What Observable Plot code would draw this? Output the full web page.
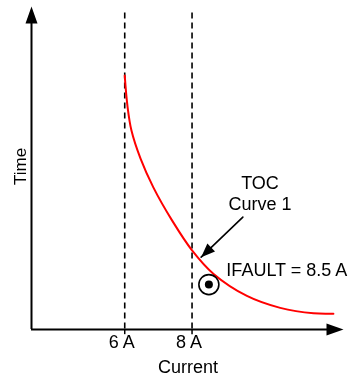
<!DOCTYPE html>
<html>
<head>
<meta charset="utf-8">
<script src="https://cdn.jsdelivr.net/npm/d3@7"></script>
<script src="https://cdn.jsdelivr.net/npm/@observablehq/plot@0.6"></script>
<style>
  html, body { margin: 0; padding: 0; background: #fff; }
  #chart { width: 356px; height: 376px; }
  #chart svg { will-change: transform; -webkit-font-smoothing: antialiased; }
</style>
</head>
<body>
<div id="chart"></div>
<script>
// Time-overcurrent (TOC) characteristic: trip time versus current
const currentA = [6.00, 6.08, 6.20, 6.47, 6.85, 7.41, 8.00, 8.64, 9.63, 10.62, 11.61, 12.20];
const tripTime = [7.86, 6.93, 6.16, 5.29, 4.40, 3.37, 2.45, 1.72, 1.04, 0.67, 0.50, 0.49];

// Pickup / reference currents marked with dashed verticals
const markerCurrents = [6, 8];
const markerLabels = ["6 A", "8 A"];
const markerTop = 9.8;
const tickDepth = -0.16;

// Fault current and its operating point
const ifault = 8.5;
const faultTime = 1.39;

// Axis extents (current in A, time in arbitrary units)
const xExtent = [3.23, 12.5];
const yExtent = [0, 10];

// Callout for the curve name
const calloutText = ["TOC\nCurve 1"];
const calloutPos = [10.02, 4.83];
const calloutArrow = [[9.51, 3.48], [8.27, 2.24]];

const curve = currentA.map((c, i) => ({current: c, time: tripTime[i]}));
const ticks = markerCurrents.map((c, i) => ({current: c, label: markerLabels[i]}));

// Filled arrowheads with the tip at the symbol origin, pointing up
const axisHead = {draw(ctx) { ctx.moveTo(0, 0); ctx.lineTo(-6, 17); ctx.lineTo(6, 17); ctx.closePath(); }};
const calloutHead = {draw(ctx) { ctx.moveTo(0, 0); ctx.lineTo(-5.5, 14); ctx.lineTo(5.5, 14); ctx.closePath(); }};

const font = "'Liberation Sans', Arial, Helvetica, sans-serif";

const chart = Plot.plot({
  width: 356,
  height: 376,
  marginLeft: 31,
  marginRight: 13,
  marginTop: 6,
  marginBottom: 47,
  style: {fontFamily: font, color: "#000", background: "#fff", overflow: "visible"},
  x: {domain: xExtent, axis: null},
  y: {domain: yExtent, axis: null},
  marks: [
    // dashed current markers
    Plot.ruleX(markerCurrents, {x: d => d, y1: markerTop, y2: yExtent[0], stroke: "#000", strokeWidth: 1.6, strokeDasharray: "6,4"}),
    // tick marks and labels under the current axis
    Plot.ruleX(markerCurrents, {x: d => d, y1: yExtent[0], y2: tickDepth, stroke: "#000", strokeWidth: 1.5}),
    Plot.text(ticks, {x: "current", y: yExtent[0], text: "label", dx: -3, dy: 6, lineAnchor: "top", fontSize: 18, fill: "#000"}),
    // axes with arrowheads
    Plot.ruleX([xExtent[0]], {y1: yExtent[0], y2: yExtent[1] - 0.3, stroke: "#000", strokeWidth: 2}),
    Plot.ruleY([yExtent[0]], {x1: xExtent[0], x2: xExtent[1] - 0.3, stroke: "#000", strokeWidth: 2}),
    Plot.dot([[xExtent[0], yExtent[1]]], {x: d => d[0], y: d => d[1], symbol: axisHead, fill: "#000", stroke: null, rotate: 0}),
    Plot.dot([[xExtent[1], yExtent[0]]], {x: d => d[0], y: d => d[1], symbol: axisHead, fill: "#000", stroke: null, rotate: 90}),
    // axis titles
    Plot.text(["Time"], {x: 2.89, y: 5.05, text: d => d, rotate: -90, fontSize: 17, fill: "#000"}),
    Plot.text(["Current"], {x: 7.88, y: -0.96, text: d => d, lineAnchor: "top", fontSize: 18, fill: "#000"}),
    // TOC curve
    Plot.line(curve, {x: "current", y: "time", stroke: "#ff0000", strokeWidth: 2, curve: "catmull-rom"}),
    // callout
    Plot.text(calloutText, {x: calloutPos[0], y: calloutPos[1], text: d => d, lineAnchor: "top", lineHeight: 1.2, fontSize: 18, fill: "#000"}),
    Plot.line(calloutArrow, {x: d => d[0], y: d => d[1], stroke: "#000", strokeWidth: 1.6}),
    Plot.dot([calloutArrow[1]], {x: d => d[0], y: d => d[1], symbol: calloutHead, fill: "#000", stroke: null, rotate: 226}),
    // fault operating point
    Plot.dot([{current: ifault, time: faultTime}], {x: "current", y: "time", r: 10, stroke: "#000", strokeWidth: 1.6, fill: "none"}),
    Plot.dot([{current: ifault, time: faultTime}], {x: "current", y: "time", r: 4, fill: "#000", stroke: null}),
    Plot.text([`IFAULT = ${ifault} A`], {x: 9.02, y: 2.04, text: d => d, textAnchor: "start", lineAnchor: "top", fontSize: 18, fill: "#000"})
  ]
});

document.getElementById("chart").appendChild(chart);
</script>
</body>
</html>
